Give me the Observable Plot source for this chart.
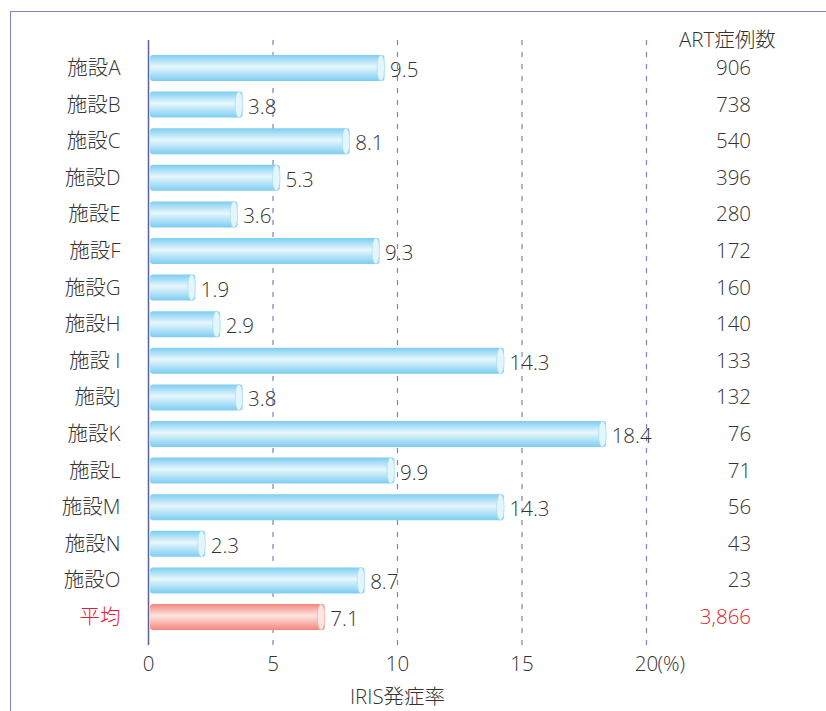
<!DOCTYPE html>
<html><head><meta charset="utf-8">
<script src="https://cdn.jsdelivr.net/npm/d3@7"></script>
<script src="https://cdn.jsdelivr.net/npm/@observablehq/plot@0.6"></script>
<style>
body{margin:0;background:#fff;}
#wrap{position:relative;width:826px;height:711px;overflow:hidden;}
#frame{position:absolute;left:10px;top:11px;width:900px;height:800px;border-left:1.5px solid #7f86bf;border-top:1.5px solid #7f86bf;}
#chart{position:absolute;left:0;top:0;}
</style></head>
<body><div id="wrap"><div id="frame"></div><div id="chart"></div></div>
<script>
const facilities = ["施設A","施設B","施設C","施設D","施設E","施設F","施設G","施設H","施設 I","施設J","施設K","施設L","施設M","施設N","施設O","平均"];
const rates = [9.5,3.8,8.1,5.3,3.6,9.3,1.9,2.9,14.3,3.8,18.4,9.9,14.3,2.3,8.7,7.1];
const artCounts = [906,738,540,396,280,172,160,140,133,132,76,71,56,43,23,3866];
const xTicks = [0,5,10,15,20];
const countHeader = "ART症例数";
const xTitle = "IRIS発症率";
const avgName = "平均";

const data = facilities.map((name,i)=>({name, v: rates[i], n: artCounts[i], avg: name===avgName}));
const fac = data.filter(d=>!d.avg);
const avg = data.filter(d=>d.avg);
const fmt = d3.format(",");
const red = "#e8202e";
const ink = "#333";
const capW = 0.3;
const countX = 24.2;

const chart = Plot.plot({
  width: 826, height: 711,
  marginLeft: 148, marginRight: 180, marginTop: 40, marginBottom: 66,
  style: {fontFamily: "'Open Sans','Noto Sans CJK JP',sans-serif", fontSize: "20.5px", fontWeight: 300, color: ink, background: "transparent", overflow: "visible"},
  x: {axis: null, domain: [0,20]},
  y: {axis: null, domain: facilities, range: [55,630], paddingInner: 0.29, paddingOuter: 0, round: false},
  marks: [
    Plot.ruleX(xTicks.filter(t=>t>0), {stroke: "#7b82c0", strokeWidth: 1.2, strokeDasharray: "5,7"}),
    Plot.barX(fac, {x1: 0, x2: "v", y: "name", fill: "url(#gBlue)", insetLeft: 2, rx: 3}),
    Plot.barX(avg, {x1: 0, x2: "v", y: "name", fill: "url(#gRed)", insetLeft: 2, rx: 3}),
    Plot.barX(fac, {x1: d=>d.v-capW, x2: "v", y: "name", fill: "#e3f5fd", stroke: "#a9def4", strokeWidth: 0.8, rx: 4, ry: 12}),
    Plot.barX(avg, {x1: d=>d.v-capW, x2: "v", y: "name", fill: "#fde6e2", stroke: "#f4b0a8", strokeWidth: 0.8, rx: 4, ry: 12}),
    Plot.ruleX([0], {stroke: "#5b6096", strokeWidth: 1.5}),
    Plot.text(data, {x: "v", y: "name", text: d=>String(d.v), dx: 5, dy: 2, textAnchor: "start", fill: ink}),
    Plot.text(fac, {x: 0, y: "name", text: "name", dx: -28, textAnchor: "end", fill: ink}),
    Plot.text(avg, {x: 0, y: "name", text: "name", dx: -28, textAnchor: "end", fill: red}),
    Plot.text(fac, {x: countX, y: "name", text: d=>fmt(d.n), textAnchor: "end", fill: ink}),
    Plot.text(avg, {x: countX, y: "name", text: d=>fmt(d.n), textAnchor: "end", fill: red}),
    Plot.text([countHeader], {x: 23.25, frameAnchor: "top", lineAnchor: "middle", text: d=>d, fill: ink}),
    Plot.text(xTicks, {x: d=>d, frameAnchor: "bottom", lineAnchor: "middle", dy: 19, text: d=>String(d), fill: ink}),
    Plot.text(["(%)"], {x: 20, frameAnchor: "bottom", lineAnchor: "middle", dy: 19, dx: 11, textAnchor: "start", text: d=>d, fill: ink}),
    Plot.text([xTitle], {x: 10, frameAnchor: "bottom", lineAnchor: "middle", dy: 52, text: d=>d, fill: ink})
  ]
});

const svg = d3.select(chart);
const defs = svg.insert("defs", ":first-child");
function grad(id, edge, mid){
  const g = defs.append("linearGradient").attr("id", id).attr("x1",0).attr("y1",0).attr("x2",0).attr("y2",1);
  g.append("stop").attr("offset","0%").attr("stop-color", edge);
  g.append("stop").attr("offset","45%").attr("stop-color", mid);
  g.append("stop").attr("offset","100%").attr("stop-color", edge);
}
grad("gBlue", "#7ccdf1", "#e8f7fd");
grad("gRed", "#f3867b", "#fde6e1");
document.getElementById("chart").appendChild(chart);
</script>
</body></html>
